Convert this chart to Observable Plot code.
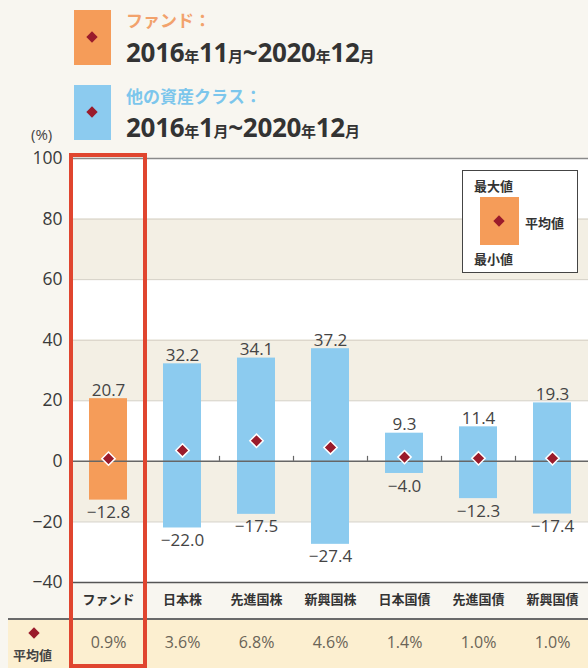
<!DOCTYPE html>
<html>
<head>
<meta charset="utf-8">
<script src="https://cdn.jsdelivr.net/npm/d3@7"></script>
<script src="https://cdn.jsdelivr.net/npm/@observablehq/plot@0.6"></script>
<style>
  html, body { margin:0; padding:0; background:#f8f6f0; overflow:hidden; }
  #wrap { position:relative; width:588px; height:668px; font-family:"Open Sans","Noto Sans CJK JP",sans-serif; }
  .abs { position:absolute; }
  .sq { position:absolute; width:37px; height:55px; }
  .dia { position:absolute; width:8px; height:8px; background:#9a1b2b; transform:rotate(45deg); }
  .lgTitle { font-family:"Noto Sans CJK JP",sans-serif; font-weight:700; font-size:17px; line-height:1; }
  .lgDate { font-family:"Open Sans","Noto Sans CJK JP",sans-serif; font-weight:700; font-size:26px; line-height:1; color:#333; letter-spacing:-0.3px; }
  .lgDate small { font-family:"Noto Sans CJK JP",sans-serif; font-size:15px; font-weight:700; }
  #plotHolder { position:absolute; left:0; top:140px; }
  #meanRow { position:absolute; left:8px; top:618px; width:580px; height:50px; background:#fcefd0; border-top:2px solid #6a6a6a; }
  #inLegend { position:absolute; left:462px; top:170px; width:114px; height:101px; border:1.5px solid #444; background:#fff; font-family:"Noto Sans CJK JP",sans-serif; font-weight:700; font-size:13px; color:#333; }
</style>
</head>
<body>
<div id="wrap">
  <div class="sq" style="left:74px;top:10px;background:#f59c59;"></div>
  <div class="dia" style="left:88px;top:33px;"></div>
  <div class="abs lgTitle" style="left:126px;top:11px;color:#f2a26c;">ファンド：</div>
  <div class="abs lgDate" style="left:126px;top:39px;">2016<small>年</small>11<small>月</small>~2020<small>年</small>12<small>月</small></div>

  <div class="sq" style="left:74px;top:85px;background:#8ccbef;"></div>
  <div class="dia" style="left:88px;top:108px;"></div>
  <div class="abs lgTitle" style="left:126px;top:87px;color:#7cc6ec;">他の資産クラス：</div>
  <div class="abs lgDate" style="left:126px;top:114px;">2016<small>年</small>1<small>月</small>~2020<small>年</small>12<small>月</small></div>

  <div class="abs" style="left:31px;top:124px;font-size:15px;color:#444;">(%)</div>

  <div id="meanRow"></div>
  <div class="dia" style="left:30px;top:629px;"></div>
  <div class="abs" style="left:13px;top:645px;font-family:'Noto Sans CJK JP',sans-serif;font-weight:700;font-size:13px;color:#444;">平均値</div>

  <div id="plotHolder"></div>

  <div id="inLegend">
    <div class="abs" style="left:11px;top:5px;">最大値</div>
    <div class="abs" style="left:17px;top:26px;width:39px;height:48px;background:#f59c59;"></div>
    <div class="dia" style="left:32px;top:46px;"></div>
    <div class="abs" style="left:62px;top:42px;">平均値</div>
    <div class="abs" style="left:11px;top:78px;">最小値</div>
  </div>
</div>
<script>
const categories = ["ファンド","日本株","先進国株","新興国株","日本国債","先進国債","新興国債"];
const maxValues  = [20.7, 32.2, 34.1, 37.2, 9.3, 11.4, 19.3];
const minValues  = [-12.8, -22.0, -17.5, -27.4, -4.0, -12.3, -17.4];
const meanValues = [0.9, 3.6, 6.8, 4.6, 1.4, 1.0, 1.0];
const groups     = ["fund","other","other","other","other","other","other"];
const yTicks     = [-40, -20, 0, 20, 40, 60, 80, 100];

const data = categories.map((c, i) => ({cat: c, max: maxValues[i], min: minValues[i], mean: meanValues[i], group: groups[i]}));
const bands = [];
for (let i = 1; i < yTicks.length - 1; i += 2) bands.push([yTicks[i], yTicks[i + 1]]);
const inner = yTicks.slice(1, -1).filter(t => t !== 0);
const yMin = yTicks[0], yMax = yTicks[yTicks.length - 1];
const fmt = v => (v < 0 ? "\u2212" : "") + Math.abs(v).toFixed(1);
const numFont = "'Open Sans','Noto Sans CJK JP',sans-serif";

const chart = Plot.plot({
  width: 588, height: 528,
  marginTop: 18, marginBottom: 86, marginLeft: 70, marginRight: 0,
  style: {background: "transparent", fontFamily: numFont, overflow: "visible"},
  x: {domain: categories, range: [70, 590], paddingInner: 0.49, paddingOuter: 0.245, axis: null},
  y: {domain: [yMin, yMax], range: [442, 18], axis: null},
  color: {domain: ["fund", "other"], range: ["#f59c59", "#8ccbef"]},
  marks: [
    Plot.frame({fill: "white", stroke: null}),
    Plot.rectY(bands, {y1: d => d[0], y2: d => d[1], fill: "#f3efe4"}),
    Plot.ruleY(inner, {stroke: "#d3cec3", strokeWidth: 1}),
    Plot.ruleY([yMax], {stroke: "#8a8a8a", strokeWidth: 1.5}),
    Plot.ruleY([yMin], {stroke: "#555", strokeWidth: 1.5}),
    Plot.barY(data, {x: "cat", y1: "min", y2: "max", fill: "group"}),
    Plot.ruleY([0], {stroke: "#666", strokeWidth: 1.5}),
    Plot.ruleX(categories.slice(0, -1), {x: d => d, y1: 0, y2: 0, insetTop: -5, dx: 37, stroke: "#666", strokeWidth: 1.2}),
    Plot.dot(data, {x: "cat", y: "mean", symbol: "diamond2", r: 6, fill: "#9a1b2b", stroke: "white", strokeWidth: 1.5}),
    Plot.text(data, {x: "cat", y: "max", text: d => fmt(d.max), lineAnchor: "bottom", dy: -3, fontSize: 17, fill: "#444"}),
    Plot.text(data, {x: "cat", y: "min", text: d => fmt(d.min), lineAnchor: "top", dy: 6, fontSize: 17, fill: "#444"}),
    Plot.axisY({ticks: yTicks, tickSize: 0, tickPadding: 8, fontSize: 17.5, color: "#3a3a3a", tickFormat: d => d < 0 ? "\u2212" + Math.abs(d) : String(d), label: null}),
    Plot.axisX({tickSize: 0, tickPadding: 12, fontSize: 13, fontWeight: "bold", color: "#333", fontFamily: "'Noto Sans CJK JP',sans-serif", label: null}),
    Plot.text(data, {x: "cat", text: d => d.mean.toFixed(1) + "%", frameAnchor: "bottom", dy: 65, fontSize: 16, fill: "#6a6457"}),
    Plot.barY([categories[0]], {x: d => d, y1: yMin, y2: yMax, fill: "none", stroke: "#e0452f", strokeWidth: 4, insetLeft: -18, insetRight: -18, insetTop: -3, insetBottom: -84})
  ]
});
document.getElementById("plotHolder").appendChild(chart);
</script>
</body>
</html>
